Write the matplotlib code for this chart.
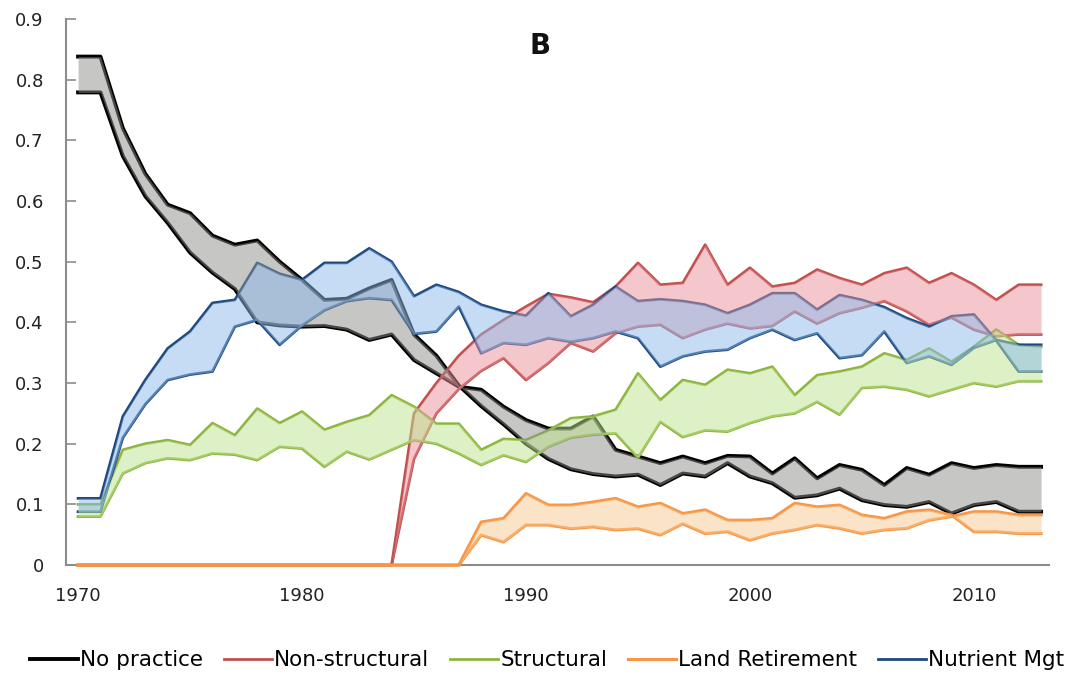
import numpy as np
import matplotlib
matplotlib.use("Agg")
import matplotlib.pyplot as plt

# --- data (two scenario bounds per practice, 1970-2013) ---
years = list(range(1970, 2014))

no_practice_a = [0.838, 0.838, 0.72, 0.645, 0.594, 0.58, 0.543, 0.528, 0.535, 0.50,
                 0.47, 0.437, 0.439, 0.456, 0.47, 0.38, 0.345, 0.296, 0.262, 0.232,
                 0.20, 0.175, 0.158, 0.15, 0.146, 0.149, 0.132, 0.151, 0.146, 0.168,
                 0.146, 0.135, 0.111, 0.115, 0.126, 0.107, 0.099, 0.096, 0.104, 0.085,
                 0.099, 0.104, 0.088, 0.088]
no_practice_b = [0.779, 0.779, 0.674, 0.608, 0.564, 0.515, 0.482, 0.455, 0.40, 0.395,
                 0.393, 0.394, 0.388, 0.371, 0.38, 0.338, 0.316, 0.294, 0.289, 0.261,
                 0.239, 0.225, 0.225, 0.245, 0.19, 0.179, 0.168, 0.179, 0.168, 0.18,
                 0.179, 0.151, 0.176, 0.143, 0.165, 0.157, 0.132, 0.16, 0.149, 0.168,
                 0.16, 0.165, 0.162, 0.162]

non_structural_a = [0] * 15 + [0.25, 0.30, 0.345, 0.38, 0.404, 0.426, 0.447, 0.441, 0.433,
                               0.459, 0.498, 0.462, 0.465, 0.528, 0.462, 0.49, 0.459, 0.465,
                               0.487, 0.473, 0.462, 0.481, 0.49, 0.465, 0.481, 0.462, 0.437,
                               0.462, 0.462]
non_structural_b = [0] * 15 + [0.175, 0.25, 0.29, 0.32, 0.341, 0.305, 0.333, 0.366, 0.352,
                               0.382, 0.393, 0.396, 0.374, 0.388, 0.398, 0.39, 0.394, 0.418,
                               0.398, 0.415, 0.424, 0.435, 0.418, 0.396, 0.408, 0.388, 0.377,
                               0.38, 0.38]

structural_a = [0.10, 0.10, 0.19, 0.20, 0.206, 0.198, 0.234, 0.214, 0.258, 0.234,
                0.253, 0.223, 0.236, 0.247, 0.28, 0.261, 0.233, 0.233, 0.19, 0.208,
                0.206, 0.222, 0.242, 0.245, 0.256, 0.316, 0.272, 0.305, 0.297, 0.322,
                0.316, 0.327, 0.28, 0.313, 0.319, 0.327, 0.349, 0.338, 0.357, 0.335,
                0.36, 0.388, 0.363, 0.36]
structural_b = [0.08, 0.08, 0.151, 0.168, 0.176, 0.173, 0.184, 0.182, 0.173, 0.195,
                0.192, 0.162, 0.187, 0.174, 0.19, 0.206, 0.20, 0.184, 0.165, 0.181,
                0.17, 0.195, 0.21, 0.215, 0.217, 0.177, 0.236, 0.211, 0.222, 0.22,
                0.234, 0.245, 0.25, 0.269, 0.248, 0.292, 0.294, 0.289, 0.278, 0.289,
                0.30, 0.294, 0.303, 0.303]

land_retirement_a = [0] * 18 + [0.071, 0.077, 0.118, 0.099, 0.099, 0.104, 0.11, 0.096, 0.102,
                                0.085, 0.091, 0.074, 0.074, 0.077, 0.102, 0.096, 0.099, 0.0825,
                                0.077, 0.088, 0.091, 0.0825, 0.055, 0.055, 0.052, 0.052]
land_retirement_b = [0] * 18 + [0.0495, 0.038, 0.066, 0.066, 0.06, 0.063, 0.058, 0.06, 0.0495,
                                0.068, 0.052, 0.055, 0.041, 0.052, 0.058, 0.066, 0.0605, 0.052,
                                0.058, 0.0605, 0.074, 0.08, 0.088, 0.088, 0.0825, 0.0825]

nutrient_mgt_a = [0.11, 0.11, 0.245, 0.305, 0.357, 0.385, 0.432, 0.437, 0.498, 0.48,
                  0.47, 0.498, 0.498, 0.522, 0.50, 0.443, 0.462, 0.45, 0.429, 0.418,
                  0.411, 0.448, 0.41, 0.429, 0.459, 0.435, 0.438, 0.435, 0.429, 0.415,
                  0.429, 0.448, 0.448, 0.421, 0.445, 0.437, 0.425, 0.407, 0.393, 0.41,
                  0.413, 0.37, 0.319, 0.319]
nutrient_mgt_b = [0.088, 0.088, 0.21, 0.265, 0.305, 0.314, 0.319, 0.393, 0.404, 0.363,
                  0.395, 0.42, 0.435, 0.44, 0.437, 0.381, 0.385, 0.426, 0.349, 0.366,
                  0.363, 0.374, 0.368, 0.374, 0.385, 0.374, 0.327, 0.344, 0.352, 0.355,
                  0.374, 0.388, 0.371, 0.382, 0.341, 0.346, 0.385, 0.333, 0.344, 0.33,
                  0.358, 0.371, 0.363, 0.363]

labels = ["No practice", "Non-structural", "Structural", "Land Retirement", "Nutrient Mgt"]
x_ticks = [1970, 1980, 1990, 2000, 2010]
y_ticks = [0, 0.1, 0.2, 0.3, 0.4, 0.5, 0.6, 0.7, 0.8, 0.9]
y_tick_labels = ["0", "0.1", "0.2", "0.3", "0.4", "0.5", "0.6", "0.7", "0.8", "0.9"]

# line colour, fill colour, line width
styles = [
    ("#000000", "#8e8e8a", 2.8),
    ("#c0504d", "#e8909a", 2.0),
    ("#8db43e", "#bee58f", 2.0),
    ("#f79646", "#f9c890", 2.2),
    ("#1f497d", "#8cbaeb", 2.0),
]
series = [
    (no_practice_a, no_practice_b),
    (non_structural_a, non_structural_b),
    (structural_a, structural_b),
    (land_retirement_a, land_retirement_b),
    (nutrient_mgt_a, nutrient_mgt_b),
]

fig = plt.figure(figsize=(10.71, 6.9), dpi=100)
ax = fig.add_axes([0.0616, 0.181, 0.918, 0.7915])

x = np.array(years)
handles = []
for (a, b), (lc, fc, lw), lab in zip(series, styles, labels):
    h, = ax.plot(x, a, color=lc, lw=lw, zorder=2, clip_on=False, label=lab)
    ax.plot(x, b, color=lc, lw=lw, zorder=2, clip_on=False)
    handles.append(h)
# fills sit on top of the lines, like the original
for (a, b), (lc, fc, lw) in zip(series, styles):
    ax.fill_between(x, a, b, color=fc, alpha=0.5, lw=0, zorder=3)

ax.set_xlim(1969.46, 2013.36)
ax.set_ylim(0, 0.9)
ax.set_yticks(y_ticks)
ax.set_yticklabels(y_tick_labels)
ax.set_xticks(x_ticks)
ax.set_xticklabels([str(t) for t in x_ticks])

for s in ["top", "right"]:
    ax.spines[s].set_visible(False)
for s in ["left", "bottom"]:
    ax.spines[s].set_color("#8c8c8c")
    ax.spines[s].set_linewidth(1.5)
    ax.spines[s].set_zorder(1)

ax.tick_params(axis="y", direction="in", length=7, width=1.2, color="#8c8c8c",
               labelsize=13, labelcolor="#222222", pad=16)
ax.tick_params(axis="x", length=0, labelsize=13, labelcolor="#222222", pad=16)

ax.text(0.482, 0.977, "B", transform=ax.transAxes, ha="center", va="top",
        fontsize=20, fontweight="bold", color="#111111")

fig.legend(handles=handles, labels=labels, loc="center", ncol=5,
           bbox_to_anchor=(0.511, 0.043), frameon=False, fontsize=15.5,
           handlelength=2.2, handletextpad=0.12, columnspacing=0.98)

fig.savefig("out.png", dpi=100, facecolor="white")
